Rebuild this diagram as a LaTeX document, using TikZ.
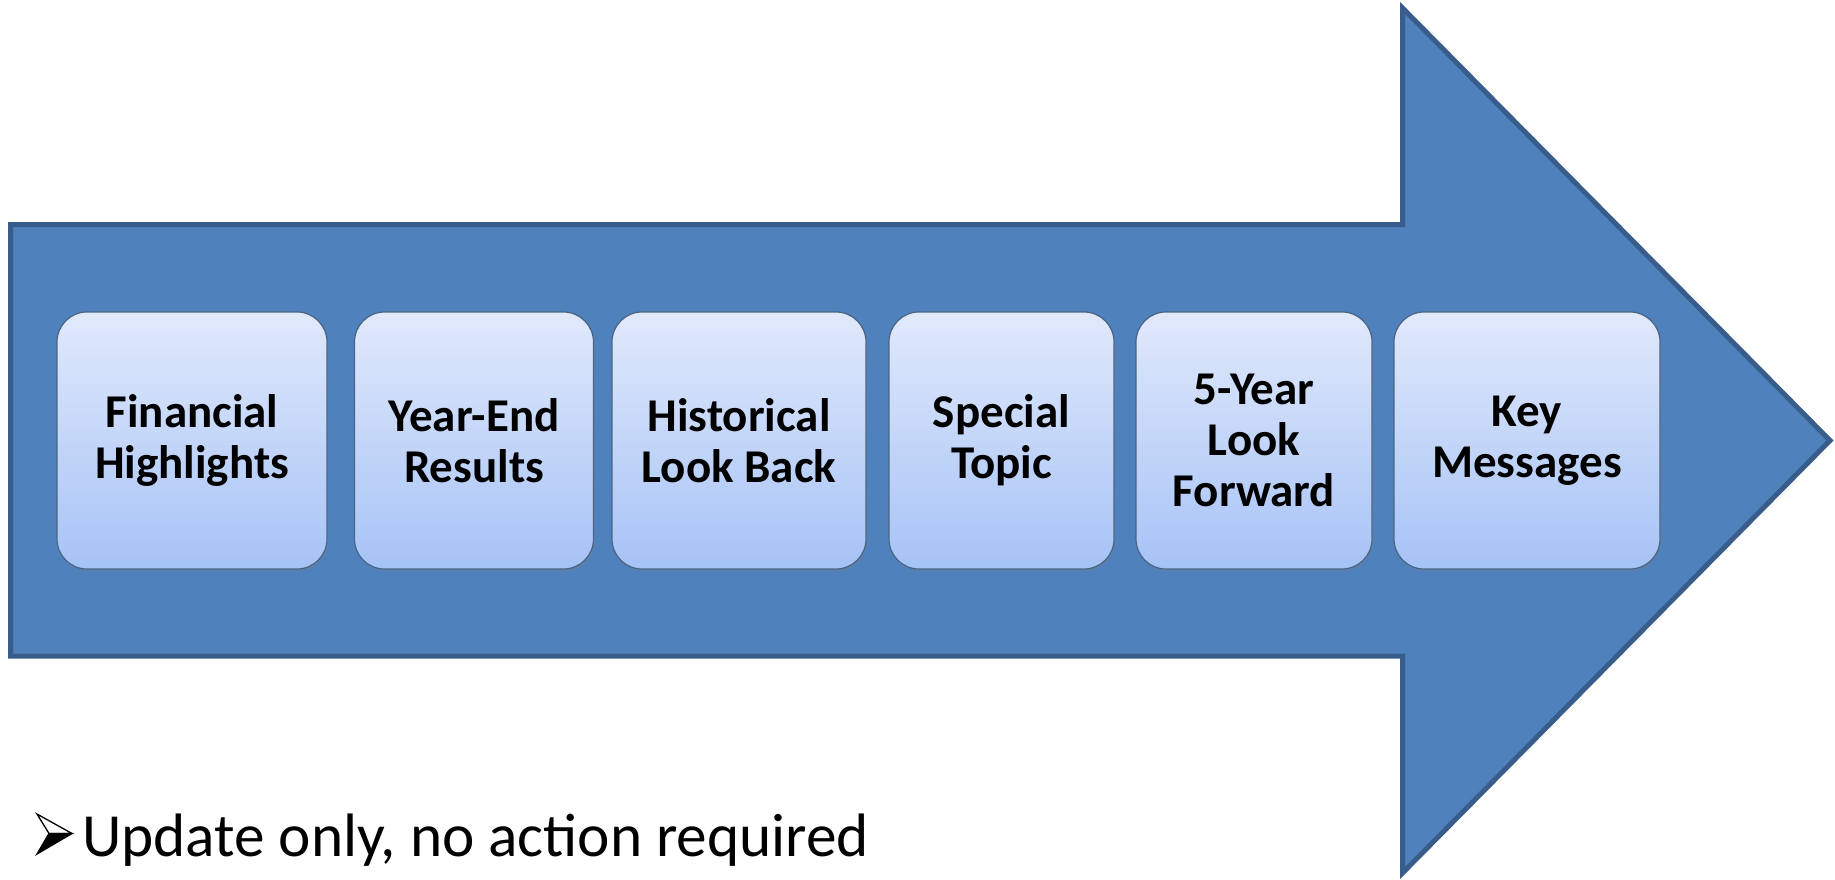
\documentclass[tikz,border=0pt]{standalone}
\usepackage{fontspec}
\setmainfont{Carlito}
\usetikzlibrary{shadows}
\definecolor{arrowfill}{HTML}{4F81BD}
\definecolor{arrowline}{HTML}{385D8A}
\definecolor{boxtop}{HTML}{E1E9FB}
\definecolor{boxbot}{HTML}{A6C3F6}
\definecolor{boxline}{HTML}{4A6484}
\begin{document}
\begin{tikzpicture}[x=1pt,y=-1pt,
  stagebox/.style={draw=boxline, line width=1.2pt, rounded corners=30pt,
    top color=boxtop, bottom color=boxbot, minimum height=257pt,
    align=center, inner sep=0pt,
    font=\fontsize{47}{51}\selectfont\bfseries,
    drop shadow={shadow xshift=1pt, shadow yshift=-2pt, opacity=0.35}},
  bigarrow/.style={draw=arrowline, fill=arrowfill, line width=5pt},
  bulletup/.style={draw=black, fill=white, line width=1.3pt, line join=miter},
  bulletdown/.style={draw=black, fill=black, line width=1.3pt, line join=miter}
]
\useasboundingbox (0,0) rectangle (1835,879);
\draw[bigarrow] (10.5,224.5) -- (1402.5,224.5) -- (1402.5,8) -- (1830,440.5)
  -- (1402.5,873) -- (1402.5,656) -- (10.5,656) -- cycle;
\node[stagebox, minimum width=270pt] (s1) at (192,440.5) {Financial\\Highlights};
\node[stagebox, minimum width=239pt] (s2) at (474,440.5) {Year-End\\Results};
\node[stagebox, minimum width=254pt] (s3) at (739,440.5) {Historical\\Look Back};
\node[stagebox, minimum width=225pt] (s4) at (1001.5,440.5) {Special\\Topic};
\node[stagebox, minimum width=236pt] (s5) at (1254,440.5) {5-Year\\Look\\Forward};
\node[stagebox, minimum width=266pt] (s6) at (1527,440.5) {Key\\Messages};
% bullet marker
\coordinate (bA) at (37,814);
\coordinate (bT) at (72,833.5);
\coordinate (bN) at (49,833.5);
\coordinate (bB) at (37,854);
\draw[bulletup] (bA) -- (bT) -- (bN) -- cycle;
\draw[bulletdown] (bN) -- (bT) -- (bB) -- cycle;
\node[anchor=base west, inner sep=0pt, font=\fontsize{61.3}{70}\selectfont] (note) at (82,856) {Update only, no action required};
\end{tikzpicture}
\end{document}
